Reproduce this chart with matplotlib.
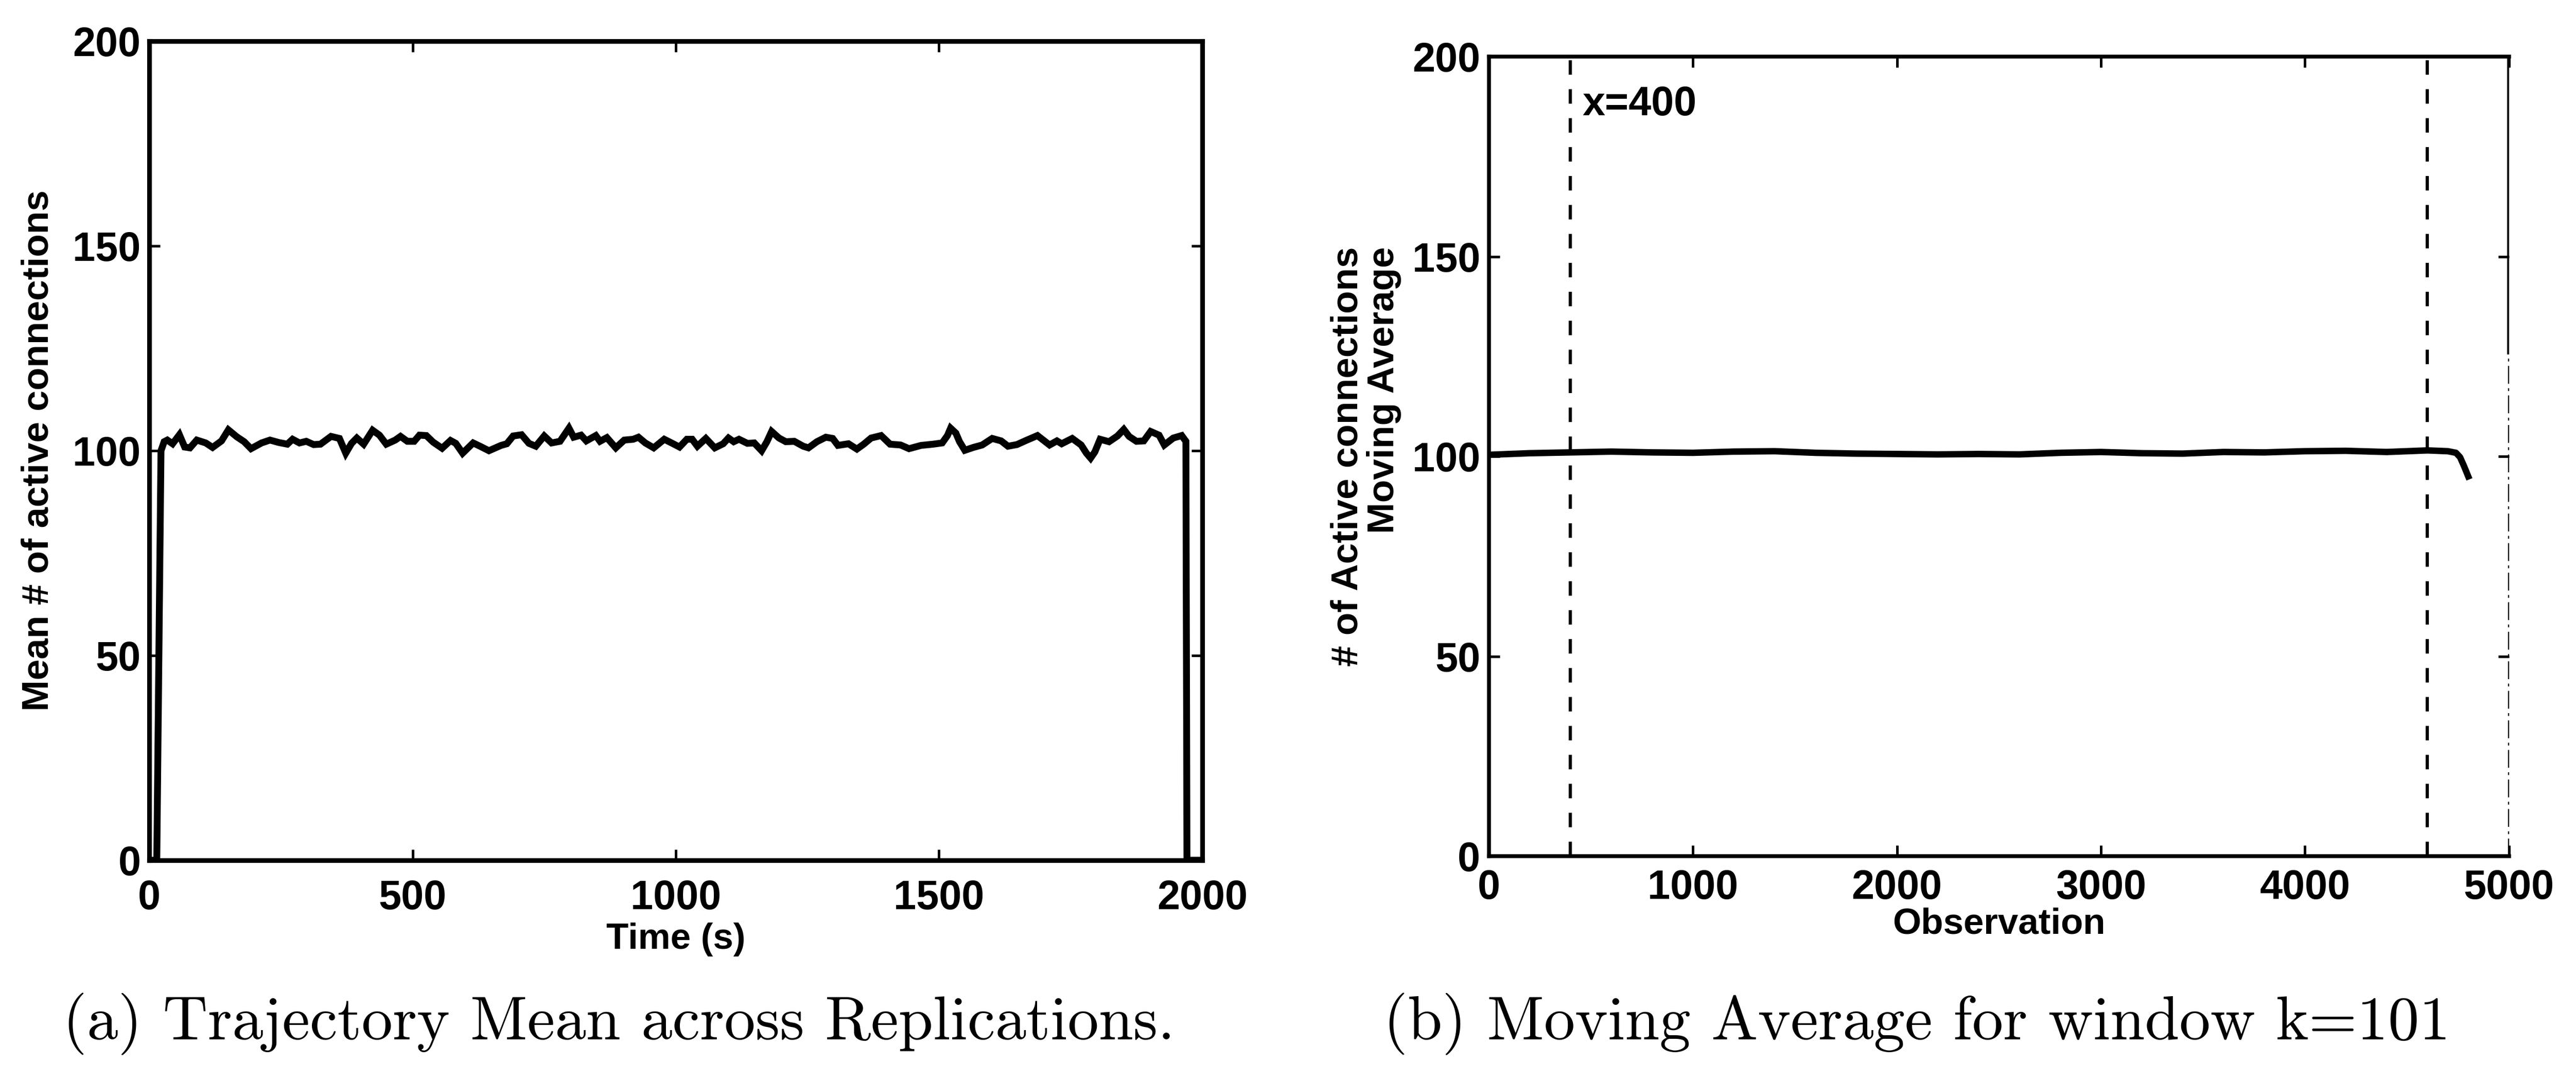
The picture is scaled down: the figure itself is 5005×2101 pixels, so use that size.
import matplotlib.pyplot as plt


# (a) trajectory mean across replications
time_s = [0, 14, 22, 28, 34, 44, 57, 67, 77, 90, 107, 120, 137, 150, 166, 180, 193,
          213, 229, 246, 262, 272, 285, 298, 312, 325, 345, 361, 373, 384, 394, 407,
          424, 437, 450, 467, 477, 490, 503, 513, 526, 539, 556, 572, 582, 595, 615,
          628, 645, 668, 679, 691, 707, 721, 734, 750, 764, 780, 797, 806, 820, 830,
          848, 856, 869, 886, 902, 919, 929, 942, 958, 978, 995, 1007, 1021, 1031,
          1041, 1057, 1074, 1090, 1100, 1110, 1120, 1136, 1149, 1163, 1173, 1182,
          1196, 1209, 1225, 1242, 1252, 1268, 1285, 1298, 1308, 1328, 1344, 1357,
          1371, 1390, 1407, 1427, 1443, 1466, 1489, 1506, 1516, 1522, 1532, 1539,
          1549, 1565, 1582, 1601, 1618, 1631, 1648, 1667, 1687, 1704, 1710, 1724,
          1733, 1753, 1770, 1780, 1788, 1796, 1806, 1823, 1839, 1851, 1861, 1875,
          1889, 1902, 1918, 1928, 1945, 1961, 1969, 1971, 2000]
mean_conn = [0, 0, 100, 102.2, 102.6, 101.7, 103.9, 100.9, 100.7, 102.6, 101.9, 100.8,
             102.4, 105.1, 103.4, 102.2, 100.5, 101.9, 102.6, 102.0, 101.6, 102.8,
             101.9, 102.3, 101.5, 101.6, 103.5, 103.0, 99.4, 101.8, 103.1, 101.6,
             105.0, 103.8, 101.6, 102.6, 103.5, 102.3, 102.3, 103.8, 103.7, 102.1,
             100.6, 102.5, 101.8, 99.4, 101.9, 101.1, 100.0, 101.3, 101.7, 103.6,
             103.9, 101.8, 101.1, 103.6, 101.9, 102.3, 105.5, 103.3, 103.8, 102.4,
             103.7, 102.3, 103.2, 100.7, 102.6, 102.8, 103.3, 101.9, 100.7, 102.8,
             101.7, 100.9, 102.8, 102.8, 101.1, 103.0, 100.7, 101.7, 103.1, 102.2,
             102.8, 101.8, 101.9, 100.0, 102.2, 104.7, 103.1, 102.2, 102.3, 101.1,
             100.7, 102.2, 103.3, 103.0, 101.3, 101.7, 100.4, 101.6, 103.1, 103.7,
             101.6, 101.4, 100.5, 101.3, 101.6, 101.9, 103.7, 105.5, 104.3, 102.2,
             100.1, 100.8, 101.4, 103.0, 102.4, 101.1, 101.5, 102.6, 103.7, 102.0,
             101.4, 102.4, 101.7, 103.0, 101.4, 99.4, 98.2, 99.7, 102.8, 102.2,
             103.6, 105.2, 103.5, 102.3, 102.4, 104.7, 103.8, 101.4, 103.1, 103.7,
             102.3, 0, 0]

# (b) moving average, window k=101
obs = [0, 200, 400, 600, 800, 1000, 1200, 1400, 1600, 1800, 2000, 2200, 2400, 2600,
       2800, 3000, 3200, 3400, 3600, 3800, 4000, 4200, 4400, 4600, 4700, 4740, 4760,
       4780, 4800]
mov_avg = [100.4, 100.8, 101.0, 101.2, 101.0, 100.9, 101.2, 101.3, 100.9, 100.7,
           100.6, 100.5, 100.6, 100.5, 100.9, 101.1, 100.8, 100.7, 101.1, 101.0,
           101.3, 101.4, 101.1, 101.5, 101.3, 100.9, 99.8, 97.5, 95.0]
warmup_cuts = [400, 4600]

x_ticks_a = [0, 500, 1000, 1500, 2000]
x_ticks_b = [0, 1000, 2000, 3000, 4000, 5000]
y_ticks = [0, 50, 100, 150, 200]

TICK_FS = 19
LABEL_FS = 17


def style_axes(ax, lw, xpad):
    for s in ax.spines.values():
        s.set_linewidth(lw)
    ax.tick_params(direction="in", length=5, width=1.2, top=True, right=True,
                   labelsize=TICK_FS)
    ax.tick_params(axis="x", pad=xpad)
    ax.tick_params(axis="y", pad=4)
    for lab in ax.get_xticklabels() + ax.get_yticklabels():
        lab.set_fontweight("bold")


def main() -> None:
    plt.rcParams["font.family"] = ["Liberation Sans", "DejaVu Sans"]
    fig = plt.figure(figsize=(5005 / 300, 2101 / 300), dpi=300)

    # left panel
    ax1 = fig.add_axes([0.058, 0.2042, 0.4087, 0.7577])
    ax1.plot(time_s, mean_conn, color="black", lw=3.2, solid_joinstyle="miter")
    ax1.set_xlim(0, 2000)
    ax1.set_ylim(0, 200)
    ax1.set_xticks(x_ticks_a)
    ax1.set_yticks(y_ticks)
    ax1.set_xlabel("Time (s)", fontsize=LABEL_FS, fontweight="bold", labelpad=2)
    ax1.set_ylabel("Mean # of active connections", fontsize=LABEL_FS + 0.5,
                   fontweight="bold", labelpad=8)
    style_axes(ax1, 2.2, 9)

    # right panel
    ax2 = fig.add_axes([0.578, 0.208, 0.396, 0.7396])
    ax2.plot(obs, mov_avg, color="black", lw=3.0)
    for xc in warmup_cuts:
        ax2.axvline(xc, color="black", lw=1.5, ls=(0, (4.5, 4.5)))
    ax2.set_xlim(0, 5000)
    ax2.set_ylim(0, 200)
    ax2.set_xticks(x_ticks_b)
    ax2.set_yticks(y_ticks)
    ax2.set_xlabel("Observation", fontsize=LABEL_FS, fontweight="bold", labelpad=0)
    ax2.set_ylabel("# of Active connections\nMoving Average", fontsize=LABEL_FS + 0.5,
                   fontweight="bold", labelpad=5, linespacing=1.05,
                   multialignment="right")
    ax2.text(459, 188, "x=400", fontsize=TICK_FS, fontweight="bold", va="center")
    style_axes(ax2, 1.8, 6)
    # the scan shows the lower right border broken up
    ax2.spines["right"].set_visible(False)
    ax2.axvline(5000, ymin=0.63, ymax=1, color="black", lw=1.8)
    ax2.axvline(5000, ymin=0, ymax=0.63, color="black", lw=1.3, ls="-.")

    fig.text(0.0244, 0.053, "(a) Trajectory Mean across Replications.",
             fontsize=29, family="cmr10", va="center")
    fig.text(0.537, 0.053, "(b) Moving Average for window k=101",
             fontsize=29, family="cmr10", va="center")

    fig.savefig("out.png", dpi=300)


if __name__ == '__main__':
    main()
